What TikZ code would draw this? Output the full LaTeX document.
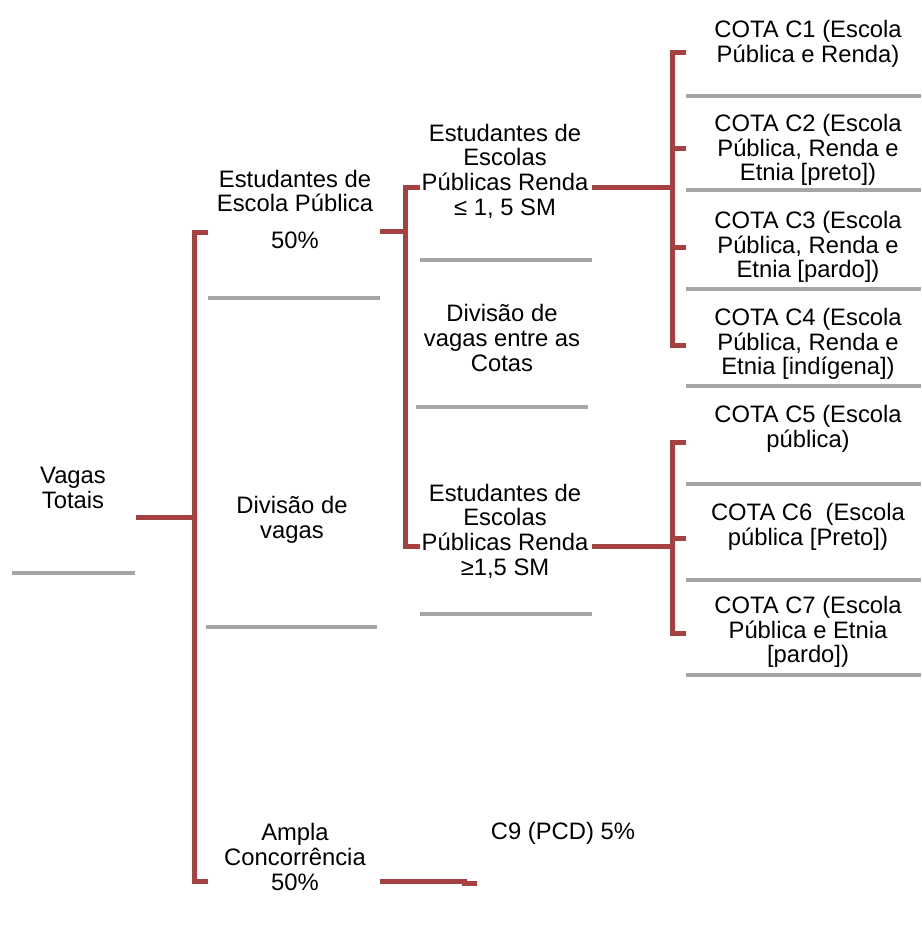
\documentclass[tikz,border=0pt]{standalone}
\usepackage{fontspec}
\setmainfont{Liberation Sans}
\definecolor{brk}{RGB}{165,65,65}
\definecolor{sep}{RGB}{166,166,166}
\begin{document}
\begin{tikzpicture}[x=1pt,y=-1pt,
  lbl/.style={align=center,inner sep=0pt,font=\fontsize{23.8}{24.6}\selectfont},
  brkline/.style={draw=brk,line width=5pt,line join=miter},
  sepline/.style={draw=sep,line width=4pt}]
\useasboundingbox (0,0) rectangle (921,947);
% texts
\node[lbl] (vt) at (73,488) {Vagas\\Totais};
\node[lbl] (ep) at (295,191) {Estudantes de\\Escola Pública};
\node[lbl] (ep50) at (295,240) {50\%};
\node[lbl] (dv) at (292,520) {Divisão de\\vagas};
\node[lbl] (ac) at (295,857) {Ampla\\Concorrência\\50\%};
\node[lbl] (c9) at (563,833) {C9 (PCD) 5\%};
\node[lbl] (el) at (505,171) {Estudantes de\\Escolas\\Públicas Renda\\≤ 1, 5 SM};
\node[lbl] (dc) at (502,338) {Divisão de\\vagas entre as\\Cotas};
\node[lbl] (eg) at (505,531) {Estudantes de\\Escolas\\Públicas Renda\\≥1,5 SM};
\node[lbl] (c1) at (808,44) {COTA C1 (Escola\\Pública e Renda)};
\node[lbl] (c2) at (808,150) {COTA C2 (Escola\\Pública, Renda e\\Etnia [preto])};
\node[lbl] (c3) at (808,247) {COTA C3 (Escola\\Pública, Renda e\\Etnia [pardo])};
\node[lbl] (c4) at (808,344) {COTA C4 (Escola\\Pública, Renda e\\Etnia [indígena])};
\node[lbl] (c5) at (808,429) {COTA C5 (Escola\\pública)};
\node[lbl] (c6) at (808,527) {COTA C6~ (Escola\\pública [Preto])};
\node[lbl] (c7) at (808,632) {COTA C7 (Escola\\Pública e Etnia\\{[pardo])}};
% separators
\draw[sepline] (12,573) -- (135,573);
\draw[sepline] (208,298) -- (380,298);
\draw[sepline] (206,627) -- (377,627);
\draw[sepline] (420,260) -- (592,260);
\draw[sepline] (416,407) -- (588,407);
\draw[sepline] (420,614) -- (592,614);
\foreach \yy in {96,190,289,386,484,580,675}
  \draw[sepline] (686,\yy) -- (921,\yy);
% brackets
\draw[brkline] (136,517) -- (194,517);
\draw[brkline] (208,232) -- (194,232) -- (194,881) -- (208,881);
\draw[brkline] (380,231) -- (405,231);
\draw[brkline] (420,187) -- (405,187) -- (405,546) -- (420,546);
\draw[brkline] (592,187) -- (672,187);
\draw[brkline] (686,53) -- (672,53) -- (672,345) -- (686,345);
\draw[brkline] (672,148) -- (686,148);
\draw[brkline] (672,247) -- (686,247);
\draw[brkline] (592,546) -- (672,546);
\draw[brkline] (686,442) -- (672,442) -- (672,633) -- (686,633);
\draw[brkline] (672,538) -- (686,538);
\draw[brkline] (380,881) -- (464,881) -- (464,883) -- (477,883);
\end{tikzpicture}
\end{document}
